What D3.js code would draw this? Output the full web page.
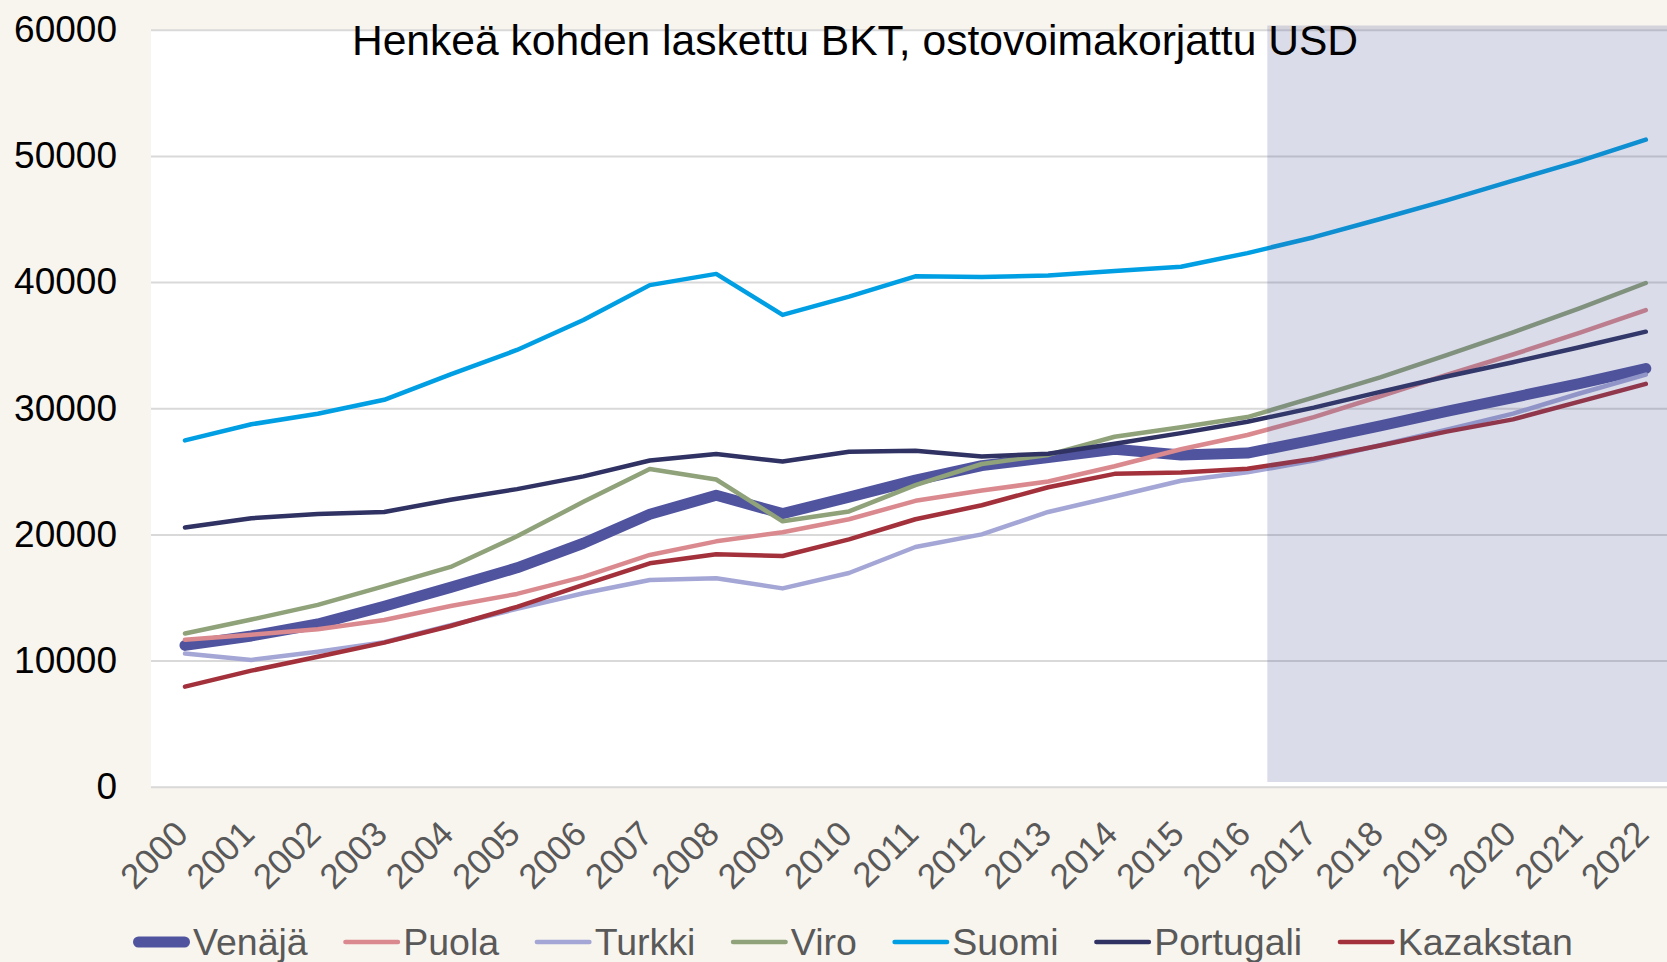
<!DOCTYPE html>
<html>
<head>
<meta charset="utf-8">
<script src="https://cdn.jsdelivr.net/npm/d3@7"></script>
<style>
    body { margin: 0; background: #F8F4EE; overflow: hidden; }
    text { font-family: "Liberation Sans", Arial, sans-serif; }
</style>
</head>
<body>
<div id="chart"></div>
<script>
// data (USD, PPP)
const years = ["2000", "2001", "2002", "2003", "2004", "2005", "2006", "2007", "2008", "2009", "2010", "2011",
    "2012", "2013", "2014", "2015", "2016", "2017", "2018", "2019", "2020", "2021", "2022"];
const venaja = [11200, 11950, 12900, 14300, 15800, 17350, 19300, 21600, 23100, 21650, 22950, 24300,
    25450, 26100, 26750, 26300, 26450, 27500, 28600, 29750, 30850, 31950, 33150];
const puola = [11650, 12050, 12480, 13220, 14330, 15280, 16630, 18370, 19450, 20170, 21200, 22660,
    23480, 24190, 25400, 26750, 27880, 29300, 30950, 32650, 34260, 35980, 37780];
const turkki = [10550, 10050, 10700, 11450, 12800, 14100, 15340, 16380, 16530, 15720, 16940, 19000,
    20000, 21780, 23000, 24250, 24920, 25850, 27070, 28300, 29570, 31170, 32670];
const viro = [12150, 13250, 14410, 15900, 17420, 19850, 22580, 25190, 24350, 21040, 21820, 23900,
    25580, 26300, 27740, 28500, 29300, 30860, 32450, 34220, 36020, 37920, 39930];
const suomi = [27450, 28730, 29570, 30670, 32690, 34620, 36990, 39760, 40650, 37400, 38850, 40460,
    40400, 40520, 40880, 41220, 42300, 43560, 45000, 46480, 48040, 49590, 51290];
const portugali = [20550, 21280, 21620, 21780, 22750, 23590, 24600, 25860, 26370, 25780, 26550, 26630,
    26170, 26400, 27180, 28030, 28930, 30050, 31300, 32520, 33650, 34840, 36070];
const kazakstan = [7930, 9200, 10300, 11420, 12740, 14260, 16000, 17710, 18420, 18290, 19610, 21200,
    22310, 23740, 24800, 24900, 25200, 26000, 27050, 28150, 29120, 30520, 31930];
const yTicks = [0, 10000, 20000, 30000, 40000, 50000, 60000];
const forecastFrom = "2016";

const series = [
    { name: "Venäjä", values: venaja, color: "#50549E", width: 11 },
    { name: "Puola", values: puola, color: "#DA8A8E", width: 4.5 },
    { name: "Turkki", values: turkki, color: "#A4A6D5", width: 4.5 },
    { name: "Viro", values: viro, color: "#8FA27A", width: 4.5 },
    { name: "Suomi", values: suomi, color: "#009FE3", width: 4.5 },
    { name: "Portugali", values: portugali, color: "#2F3262", width: 4.5 },
    { name: "Kazakstan", values: kazakstan, color: "#A3313B", width: 4.5 }
];

var width = 1667;
var height = 962;
var plot = { left: 151, top: 29.8, bottom: 786.7 };

var svg = d3.select("#chart")
    .append("svg")
    .attr("width", width)
    .attr("height", height);

// scales
const x = d3.scalePoint()
    .domain(years)
    .range([185, 1645.8]);

const y = d3.scaleLinear()
    .domain([0, 60000])
    .range([plot.bottom, plot.top]);

// plot area
svg.append("rect")
    .attr("x", plot.left)
    .attr("y", plot.top)
    .attr("width", width - plot.left)
    .attr("height", plot.bottom - plot.top)
    .attr("fill", "white");

// y axis with gridlines
const yAxis = svg.append("g")
    .attr("transform", `translate(${plot.left},0)`)
    .call(d3.axisLeft(y).tickValues(yTicks).tickFormat(d3.format("d"))
        .tickSizeInner(-(width - plot.left)).tickSizeOuter(0).tickPadding(34));
yAxis.select(".domain").remove();
yAxis.selectAll("line")
    .attr("stroke", "#D9D9D9")
    .attr("stroke-width", 2);
yAxis.selectAll("text")
    .attr("fill", "#000")
    .style("font-size", "37px")
    .style("font-family", "'Liberation Sans', Arial, sans-serif");

// x labels (rotated)
svg.append("g")
    .selectAll("text")
    .data(years)
    .join("text")
    .attr("transform", d => `translate(${x(d) + 5},836) rotate(-45)`)
    .attr("text-anchor", "end")
    .attr("fill", "#595959")
    .style("font-size", "35px")
    .text(d => d);

// lines
const line = d3.line()
    .x((d, i) => x(years[i]))
    .y(d => y(d));

svg.append("g")
    .selectAll("path")
    .data(series)
    .join("path")
    .attr("d", d => line(d.values))
    .attr("fill", "none")
    .attr("stroke", d => d.color)
    .attr("stroke-width", d => d.width)
    .attr("stroke-linejoin", "round")
    .attr("stroke-linecap", "round");

// forecast shading, drawn over the lines
const shadeX = x(forecastFrom) + x.step() * 0.3;
svg.append("rect")
    .attr("x", shadeX)
    .attr("y", plot.top - 4.3)
    .attr("width", width - shadeX)
    .attr("height", plot.bottom - plot.top - 0.4)
    .attr("fill", "rgb(70,80,145)")
    .attr("fill-opacity", 0.2);

// title
svg.append("text")
    .attr("x", 855)
    .attr("y", 55)
    .attr("text-anchor", "middle")
    .attr("fill", "#000")
    .style("font-size", "42.6px")
    .text("Henkeä kohden laskettu BKT, ostovoimakorjattu USD");

// legend
const legend = svg.append("g").attr("transform", "translate(0,942)");
let lx = 133;
series.forEach(s => {
    const item = legend.append("g");
    item.append("line")
        .attr("x1", lx + s.width / 2)
        .attr("x2", lx + 57 - s.width / 2)
        .attr("stroke", s.color)
        .attr("stroke-width", s.width)
        .attr("stroke-linecap", "round");
    const t = item.append("text")
        .attr("x", lx + 60)
        .attr("y", 12.5)
        .attr("fill", "#595959")
        .style("font-size", "37.5px")
        .text(s.name);
    lx += 60 + t.node().getComputedTextLength() + 35.5;
});
</script>
</body>
</html>
